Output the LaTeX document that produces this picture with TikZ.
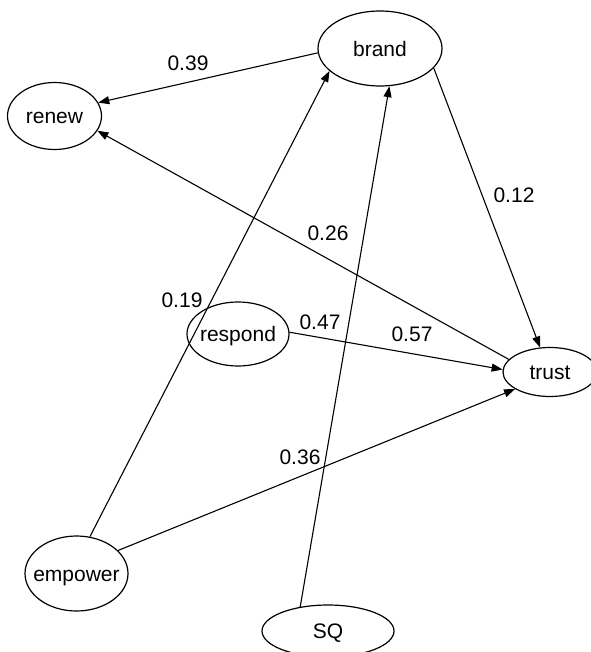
\documentclass[tikz,border=0pt]{standalone}
\usepackage{fontspec}
\setmainfont{Liberation Sans}
\usetikzlibrary{shapes.geometric,arrows.meta}
\newcommand\ctext[1]{\smash{\makebox[0pt]{\raisebox{-0.36em}{#1}}}}
\begin{document}
\begin{tikzpicture}[x=1pt,y=-1pt,
  var/.style={draw,ellipse,line width=1.2pt,inner sep=0pt,font=\fontsize{21}{25}\selectfont},
  wlab/.style={inner sep=0pt,font=\fontsize{21}{25}\selectfont},
  conn/.style={line width=1.1pt,-{Triangle[length=11pt,width=8pt]}}]
\useasboundingbox (0,0) rectangle (590,652);
\node[var,minimum width=124pt,minimum height=75pt] (brand) at (380,48.5) {\ctext{brand}};
\node[var,minimum width=94pt,minimum height=67pt] (renew) at (54.5,116) {\ctext{renew}};
\node[var,minimum width=102pt,minimum height=64pt] (respond) at (238,334) {\ctext{respond}};
\node[var,minimum width=94pt,minimum height=49pt] (trust) at (550,372) {\ctext{trust}};
\node[var,minimum width=103pt,minimum height=75pt] (empower) at (76.5,573.5) {\ctext{empower}};
\node[var,minimum width=132pt,minimum height=52pt] (SQ) at (328,631) {\ctext{SQ}};
% connectors
\draw[conn] (brand.184) -- (renew.17);
\draw[conn] (trust.163) -- (renew.-19);
\draw[conn] (brand.-20) -- (trust.112);
\draw[conn] (respond.2) -- (trust.177);
\draw[conn] (empower.70) -- (brand.204);
\draw[conn] (empower.29) -- (trust.206);
\draw[conn] (SQ.139) -- (brand.-76);
% labels
\node[wlab] (l39) at (188,63) {0.39};
\node[wlab] (l26) at (328,233) {0.26};
\node[wlab] (l12) at (514,195) {0.12};
\node[wlab] (l19) at (182,300) {0.19};
\node[wlab] (l47) at (320,322) {0.47};
\node[wlab] (l57) at (412,334) {0.57};
\node[wlab] (l36) at (300,457) {0.36};
\end{tikzpicture}
\end{document}
